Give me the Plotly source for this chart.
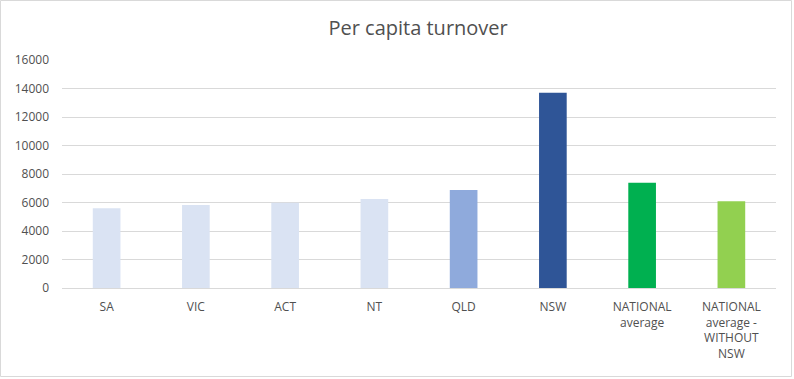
import plotly.graph_objects as go

categories = ["SA", "VIC", "ACT", "NT", "QLD", "NSW", "NATIONAL<br>average", "NATIONAL<br>average -<br>WITHOUT<br>NSW"]
values = [5600, 5830, 5990, 6250, 6880, 13710, 7390, 6080]
colors = ["#DAE3F3", "#DAE3F3", "#DAE3F3", "#DAE3F3", "#8FAADC", "#2F5597", "#00B050", "#92D050"]
y_ticks = [0, 2000, 4000, 6000, 8000, 10000, 12000, 14000, 16000]
y_tick_text = [str(v) for v in y_ticks]

W, H = 794, 379
L, R, T, B = 62, 18, 60, 91
pw, ph = W - L - R, H - T - B

fig = go.Figure(go.Bar(
    x=categories, y=values,
    marker=dict(color=colors, line=dict(width=0)),
    width=0.31,
))

def px_to_paper_x(px):
    return (px - L) / pw

def px_to_paper_y(py):
    return (H - B - py) / ph

fig.update_layout(
    width=W, height=H,
    margin=dict(l=L, r=R, t=T, b=B),
    paper_bgcolor="white", plot_bgcolor="white",
    font=dict(family="Open Sans", color="#505050", size=12),
    title=dict(text="Per capita turnover", x=396 / W, xref="paper", xanchor="center",
               y=1 - 28 / H, yanchor="middle", font=dict(size=20, color="#505050")),
    showlegend=False,
    xaxis=dict(showgrid=False, showline=False, ticks="", tickangle=0,
               ticklabelstandoff=10,
               tickfont=dict(size=12, color="#505050")),
    yaxis=dict(range=[0, 16000], tickvals=y_ticks, ticktext=y_tick_text,
               showgrid=True, gridcolor="#D9D9D9",
               gridwidth=1, zeroline=True, zerolinecolor="#D9D9D9", zerolinewidth=1,
               showline=False, ticks="", ticklabelstandoff=12,
               tickfont=dict(size=12, color="#505050")),
    shapes=[dict(type="rect", xref="paper", yref="paper",
                 x0=px_to_paper_x(0.5), x1=px_to_paper_x(791.5),
                 y0=px_to_paper_y(376.5), y1=px_to_paper_y(0.5),
                 line=dict(color="#D9D9D9", width=1), fillcolor="rgba(0,0,0,0)")],
)

fig.write_html("out.html", config={"displayModeBar": False},
               post_script="document.body.style.margin='0px';document.body.style.overflow='hidden';")
